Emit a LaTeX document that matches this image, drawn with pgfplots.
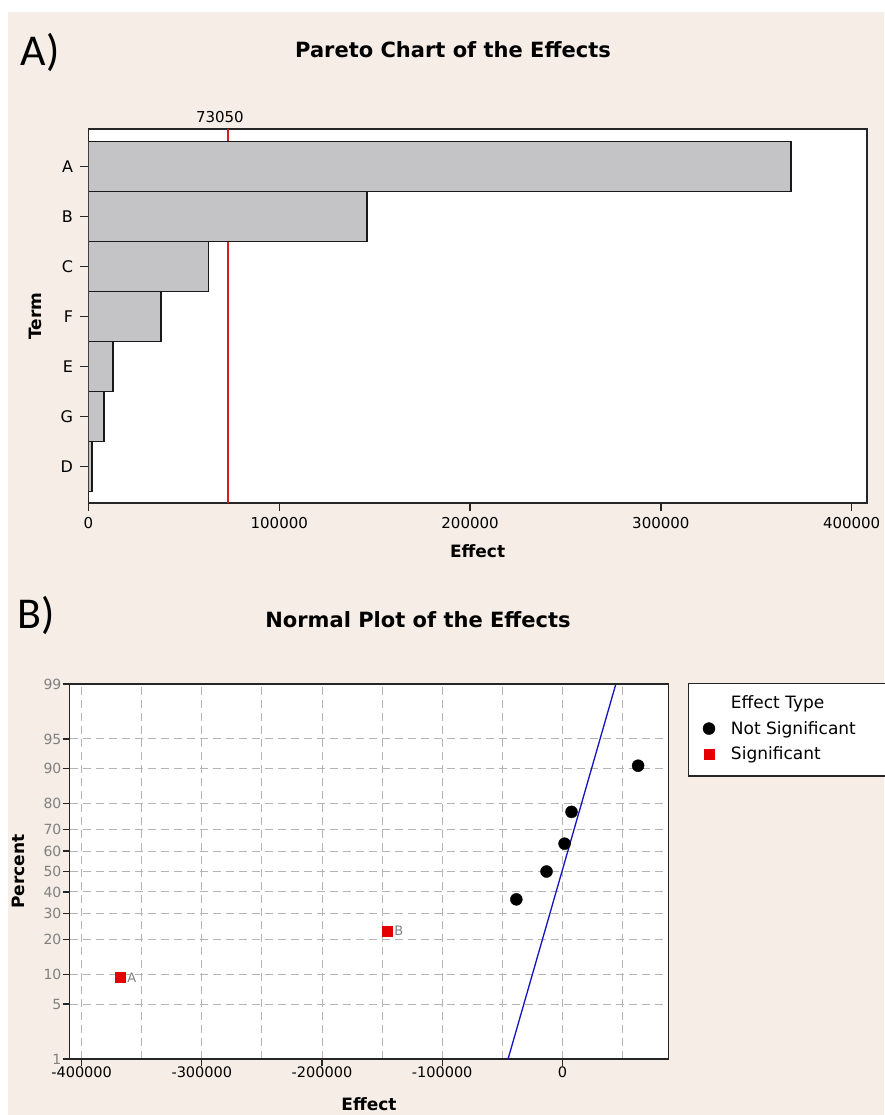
\documentclass[border=0pt]{standalone}
\usepackage{fontspec}
\setmainfont{DejaVu Sans}
\newfontfamily\tagfont{Carlito}
\usepackage{pgfplots}
\pgfplotsset{compat=1.18}

\definecolor{bgcol}{RGB}{245,237,230}
\definecolor{barcol}{RGB}{196,196,198}
\definecolor{refred}{RGB}{215,30,30}
\definecolor{sigred}{RGB}{228,0,0}
\definecolor{fitblue}{RGB}{20,20,190}
\definecolor{gridcol}{RGB}{180,180,180}

\newcommand{\fsz}[1]{\fontsize{#1}{#1}\selectfont}

\pgfplotsset{
  minitab/.style={
    scale only axis,
    axis background/.style={fill=white},
    axis line style={line width=1.6pt, black!85},
    every tick/.style={line width=1.3pt, black!85},
    tick align=outside, tick pos=left,
    major tick length=8pt,
    scaled ticks=false,
    /pgf/number format/assume math mode=true,
    /pgf/number format/fixed,
    /pgf/number format/1000 sep={},
    label style={font=\bfseries\fsz{17}},
  }
}

\begin{document}
\begin{tikzpicture}
\fill[white] (0pt,0pt) rectangle (884pt,-1115pt);
\fill[bgcol] (8pt,-12pt) rectangle (884pt,-1115pt);
\useasboundingbox (0pt,0pt) rectangle (884pt,-1115pt);

% panel tags and titles
\node[font=\tagfont\fsz{44}] at (40pt,-52pt) {A)};
\node[font=\bfseries\fsz{21}] at (453pt,-50pt) {Pareto Chart of the Effects};
\node[font=\tagfont\fsz{44}] at (36pt,-615pt) {B)};
\node[font=\bfseries\fsz{21}] at (418pt,-620pt) {Normal Plot of the Effects};

% legend frame of panel B
\draw[line width=1.3pt, black!85, fill=white] (688.5pt,-683.3pt) rectangle (900pt,-776pt);

% ---------------- Pareto chart ----------------
\begin{axis}[minitab,
  at={(88.5pt,-503pt)}, anchor=south west,
  width=778.2pt, height=374pt,
  clip mode=individual,
  xmin=0, xmax=407900, ymin=0.266, ymax=7.748,
  xtick={0,100000,200000,300000,400000},
  ytick={1,2,3,4,5,6,7}, yticklabels={D,G,E,F,C,B,A},
  xticklabel style={font=\fsz{15}, yshift=-3pt},
  yticklabel style={font=\fsz{16}, xshift=-4pt},
  xlabel={Effect}, ylabel={Term},
  xlabel style={at={(axis description cs:0.5,-0.13)}, anchor=center},
  ylabel style={at={(axis description cs:-0.0688,0.5)}, anchor=center},
]
\addplot[color=refred, line width=1.3pt] coordinates {(73050,0.266) (73050,7.748)};
\addplot[xbar, bar width=1, fill=barcol, draw=black!90, line width=1.6pt]
  coordinates {(368300,7) (146000,6) (63000,5) (38000,4) (12800,3) (8200,2) (1800,1)};
\node[anchor=south, inner sep=0pt, font=\fsz{15}, xshift=-8pt, yshift=6pt]
  at (axis cs:73050,7.748) {73050};
\end{axis}

% ---------------- Normal plot ----------------
\begin{axis}[minitab,
  at={(69.6pt,-1059pt)}, anchor=south west,
  width=598.9pt, height=375pt,
  xmin=-410000, xmax=88300, ymin=-2.3263, ymax=2.3263,
  xtick={-400000,-300000,-200000,-100000,0},
  minor xtick={-350000,-250000,-150000,-50000,50000},
  ytick={-2.3263,-1.6449,-1.2816,-0.8416,-0.5244,-0.2533,0,0.2533,0.5244,0.8416,1.2816,1.6449,2.3263},
  yticklabels={1,5,10,20,30,40,50,60,70,80,90,95,99},
  grid=both,
  major grid style={gridcol, line width=0.9pt, dash pattern=on 8pt off 5pt},
  minor grid style={gridcol, line width=0.9pt, dash pattern=on 8pt off 5pt},
  minor tick length=0pt, major tick length=7pt,
  xticklabel style={font=\fsz{14.5}, inner sep=1pt},
  yticklabel style={font=\fsz{14}, text=gray, inner sep=1pt},
  xlabel={Effect}, ylabel={Percent},
  xlabel style={at={(axis description cs:0.5,-0.12)}, anchor=center},
  ylabel style={at={(axis description cs:-0.0857,0.5)}, anchor=center},
  legend style={draw=none, fill=none, at={(axis description cs:1.053,0.974)},
    anchor=north west, font=\fsz{17}, inner sep=0pt, row sep=7pt,
    /tikz/every odd column/.append style={column sep=14pt}},
  legend cell align=left,
]
\addlegendimage{empty legend}
\addlegendentry{Effect Type}
\addplot[only marks, mark=*, mark size=6pt, black] table {
x y
-38300 -0.3455
-13200 0
1800 0.3455
7600 0.7398
63000 1.3130
};
\addlegendentry{Not Significant}
\addplot[only marks, mark=square*, mark size=5pt, sigred,
  point meta=explicit symbolic, nodes near coords,
  nodes near coords style={anchor=west, font=\fsz{13}, text=gray, xshift=4pt}]
  table[meta=lab] {
x y lab
-368300 -1.3130 A
-146000 -0.7398 B
};
\addlegendentry{Significant}
\addplot[fitblue, line width=1.3pt, forget plot] coordinates {(-45200,-2.3263) (44500,2.3263)};
\end{axis}
\end{tikzpicture}
\end{document}
